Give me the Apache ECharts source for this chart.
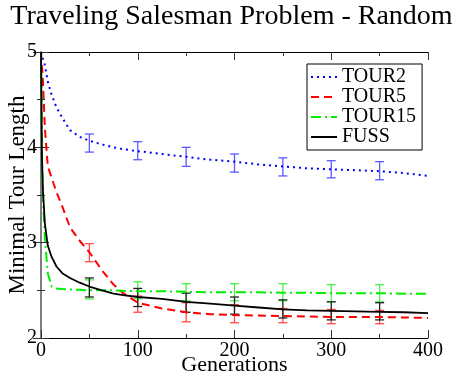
<!DOCTYPE html>
<html lang="en">

<head>
  <meta charset="UTF-8">
  <title>Traveling Salesman Problem - Random</title>
  <script src="https://cdn.jsdelivr.net/npm/echarts@6/dist/echarts.min.js"></script>
  <style>
    html, body { margin: 0; padding: 0; background: #fff; }
    #main { width: 463px; height: 378px; }
  </style>
</head>

<body>
  <div id="main"></div>
  <script type="text/javascript">
    // generations where the curves were sampled
    var gens = [0, 1, 2, 4, 7, 11, 16, 22, 30, 40, 50, 63, 75, 85, 100, 125, 150, 175, 200, 225, 250, 275, 300, 325, 350, 375, 400];

    var tour2 = [5.0, 4.97, 4.93, 4.86, 4.69, 4.55, 4.42, 4.31, 4.18, 4.11, 4.07, 4.03, 4.0, 3.98, 3.96, 3.93, 3.9, 3.87, 3.85, 3.82, 3.8, 3.78, 3.77, 3.76, 3.75, 3.73, 3.7];
    var tour5 = [5.0, 4.85, 4.7, 4.2, 3.8, 3.68, 3.53, 3.38, 3.16, 3.02, 2.9, 2.71, 2.56, 2.47, 2.37, 2.31, 2.27, 2.25, 2.24, 2.235, 2.23, 2.225, 2.22, 2.22, 2.22, 2.215, 2.21];
    var tour15 = [5.0, 3.9, 3.5, 3.05, 2.68, 2.54, 2.52, 2.515, 2.51, 2.505, 2.5, 2.5, 2.5, 2.495, 2.49, 2.49, 2.485, 2.48, 2.48, 2.48, 2.475, 2.475, 2.47, 2.47, 2.47, 2.465, 2.465];
    var fuss = [5.0, 3.9, 3.55, 3.2, 2.97, 2.85, 2.75, 2.68, 2.63, 2.58, 2.54, 2.5, 2.465, 2.45, 2.43, 2.41, 2.38, 2.36, 2.34, 2.32, 2.3, 2.29, 2.285, 2.28, 2.275, 2.27, 2.26];

    // error bars (low / high) every 50 generations
    var errGens = [50, 100, 150, 200, 250, 300, 350];
    var tour2Low = [3.95, 3.87, 3.8, 3.74, 3.7, 3.68, 3.66];
    var tour2High = [4.14, 4.06, 4.0, 3.93, 3.89, 3.86, 3.85];
    var tour5Low = [2.8, 2.27, 2.17, 2.16, 2.16, 2.15, 2.15];
    var tour5High = [2.99, 2.44, 2.37, 2.35, 2.31, 2.3, 2.29];
    var tour15Low = [2.41, 2.41, 2.39, 2.39, 2.39, 2.38, 2.38];
    var tour15High = [2.61, 2.59, 2.57, 2.57, 2.57, 2.56, 2.56];
    var fussLow = [2.43, 2.33, 2.27, 2.25, 2.21, 2.19, 2.19];
    var fussHigh = [2.63, 2.52, 2.47, 2.43, 2.4, 2.38, 2.37];

    var serif = 'Liberation Serif';

    function pairs(ys) {
      return gens.map(function(g, i) { return [g, ys[i]]; });
    }

    function bars(low, high) {
      return errGens.map(function(g, i) { return [g, low[i], high[i]]; });
    }

    function errorSeries(name, color, data) {
      return {
        name: name,
        type: 'custom',
        z: 1,
        data: data,
        renderItem: function(params, api) {
          var lo = api.coord([api.value(0), api.value(1)]);
          var hi = api.coord([api.value(0), api.value(2)]);
          var w = 4.5;
          var style = { stroke: color, lineWidth: 1.3 };
          return {
            type: 'group',
            children: [
              { type: 'line', shape: { x1: lo[0], y1: lo[1], x2: hi[0], y2: hi[1] }, style: style },
              { type: 'line', shape: { x1: lo[0] - w, y1: lo[1], x2: lo[0] + w, y2: lo[1] }, style: style },
              { type: 'line', shape: { x1: hi[0] - w, y1: hi[1], x2: hi[0] + w, y2: hi[1] }, style: style }
            ]
          };
        }
      };
    }

    function lineSeries(name, color, ys, dash, width) {
      return {
        name: name,
        type: 'line',
        z: 3,
        symbol: 'none',
        data: pairs(ys),
        itemStyle: { color: color },
        lineStyle: { color: color, width: width, type: dash }
      };
    }

    var tickStyle = { color: '#333', width: 1 };

    var myChart = echarts.init(document.getElementById('main'));

    var option = {
      animation: false,
      backgroundColor: '#fff',
      title: {
        text: 'Traveling Salesman Problem - Random',
        left: 'center',
        top: -2,
        textStyle: { fontFamily: serif, fontSize: 28, fontWeight: 'normal', color: '#000' }
      },
      grid: { left: 41, right: 35, top: 52, bottom: 40, containLabel: false, outerBoundsMode: 'none' },
      legend: {
        orient: 'vertical',
        left: 307,
        top: 64,
        data: ['TOUR2', 'TOUR5', 'TOUR15', 'FUSS'],
        itemWidth: 26,
        itemHeight: 14,
        itemGap: 0,
        padding: [3, 6, 3, 3],
        backgroundColor: '#fff',
        borderColor: '#000',
        borderWidth: 1,
        borderRadius: 0,
        itemStyle: { opacity: 0 },
        textStyle: { fontFamily: serif, fontSize: 20, color: '#000', lineHeight: 18 }
      },
      xAxis: [{
        type: 'value',
        min: 0,
        max: 400,
        interval: 100,
        name: 'Generations',
        nameLocation: 'middle',
        nameGap: 16,
        nameMoveOverlap: false,
        nameTextStyle: { fontFamily: serif, fontSize: 22, color: '#000', verticalAlign: 'top' },
        axisLine: { lineStyle: { color: '#000', width: 1 } },
        axisTick: { inside: true, length: 8, lineStyle: tickStyle },
        minorTick: { show: true, splitNumber: 2, length: 4, lineStyle: tickStyle },
        splitLine: { show: false },
        axisLabel: { fontFamily: serif, fontSize: 20, color: '#000', margin: 3 }
      }, {
        type: 'value',
        position: 'top',
        min: 0,
        max: 400,
        interval: 100,
        axisLine: { lineStyle: { color: '#000', width: 1 } },
        axisTick: { inside: true, length: 8, lineStyle: tickStyle },
        minorTick: { show: true, splitNumber: 2, length: 4, lineStyle: tickStyle },
        splitLine: { show: false },
        axisLabel: { show: false }
      }],
      yAxis: [{
        type: 'value',
        min: 2,
        max: 5,
        interval: 1,
        name: 'Minimal Tour Length',
        nameLocation: 'middle',
        nameGap: 12,
        nameMoveOverlap: false,
        nameTextStyle: { fontFamily: serif, fontSize: 23, color: '#000' },
        axisLine: { lineStyle: { color: '#777', width: 1.5 } },
        axisTick: { inside: true, length: 8, lineStyle: tickStyle },
        minorTick: { show: true, splitNumber: 2, length: 4, lineStyle: tickStyle },
        splitLine: { show: false },
        axisLabel: { fontFamily: serif, fontSize: 20, color: '#000', margin: 4 }
      }, {
        type: 'value',
        position: 'right',
        min: 2,
        max: 5,
        interval: 1,
        axisLine: { lineStyle: { color: '#777', width: 1.5 } },
        axisTick: { inside: true, length: 8, lineStyle: tickStyle },
        minorTick: { show: true, splitNumber: 2, length: 4, lineStyle: tickStyle },
        splitLine: { show: false },
        axisLabel: { show: false }
      }],
      series: [
        errorSeries('err2', '#5a5aff', bars(tour2Low, tour2High)),
        errorSeries('err5', '#ff4a4a', bars(tour5Low, tour5High)),
        errorSeries('err15', '#4aef4a', bars(tour15Low, tour15High)),
        errorSeries('errF', '#222', bars(fussLow, fussHigh)),
        lineSeries('TOUR2', '#0000ff', tour2, [2, 4], 2),
        lineSeries('TOUR5', '#ff0000', tour5, [8, 5], 2),
        lineSeries('TOUR15', '#00ee00', tour15, [10, 4, 2, 4], 2),
        lineSeries('FUSS', '#000000', fuss, 'solid', 1.8)
      ]
    };

    myChart.setOption(option);
  </script>
</body>

</html>
